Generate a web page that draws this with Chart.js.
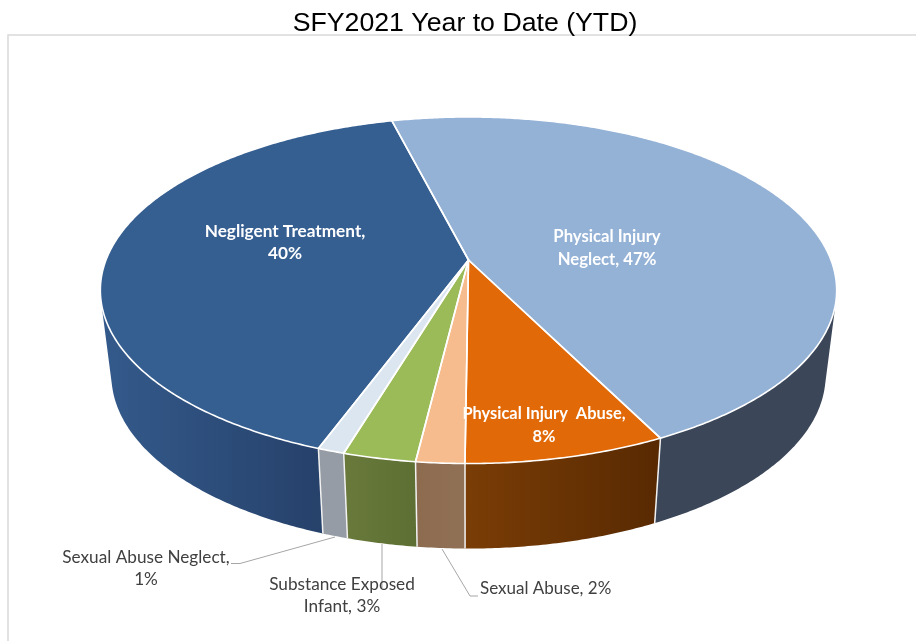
<!DOCTYPE html>
<html>
<head>
<meta charset="utf-8">
<title>SFY2021 Year to Date (YTD)</title>
<script src="https://cdn.jsdelivr.net/npm/chart.js@4"></script>
<style>
  html, body { margin: 0; padding: 0; background: #fff; }
  #wrap { width: 916px; height: 641px; }
  canvas { display: block; }
</style>
</head>
<body>
<div id="wrap"><canvas id="chart" width="916" height="641"></canvas></div>
<script>
const categories = ['Physical Injury Neglect', 'Physical Injury Abuse', 'Sexual Abuse', 'Substance Exposed Infant', 'Sexual Abuse Neglect', 'Negligent Treatment'];
const shares = [46.6, 7.5, 1.8, 2.7, 1.0, 40.4];
const topColors = ['#94b1d6', '#e26908', '#f6bc8d', '#9bbb59', '#dce6f1', '#355e91'];
const wallLeft = ['#3b4759', '#7a3d06', '#8c6b4f', '#68793b', '#969ca5', '#33598a'];
const wallRight = ['#3b4759', '#592a02', '#917156', '#5e6f33', '#969ca5', '#26416a'];

// projection of the flat pie onto the tilted disc
const APEX_X = 468.5, APEX_Y = 260;
const RX = 362.5, RY = 168, PERSP = 0.1746;
const DEPTH = 85, BOTTOM_SCALE = 0.97;

function rim(angle) {
  const u = Math.cos(angle), v = Math.sin(angle);
  const d = 1 - PERSP * v;
  return { x: APEX_X + RX * u / d, y: APEX_Y + RY * v / d };
}
function lowerRim(angle) {
  const p = rim(angle);
  return { x: APEX_X + (p.x - APEX_X) * BOTTOM_SCALE, y: p.y + DEPTH };
}
function sweep(a0, a1) {
  const n = Math.max(2, Math.ceil((a1 - a0) / (Math.PI / 360)));
  const out = [];
  for (let i = 0; i <= n; i++) out.push(a0 + (a1 - a0) * i / n);
  return out;
}
// true where the wall faces the viewer (stops at the fold on both sides)
function facesViewer(a) {
  const p = rim(a), q = rim(a + 0.001), r = lowerRim(a);
  return (q.x - p.x) * (r.y - p.y) - (q.y - p.y) * (r.x - p.x) < 0;
}

const tiltedPie = {
  id: 'tiltedPie',
  beforeDraw(chart) {
    const ctx = chart.ctx;
    ctx.save();
    ctx.strokeStyle = '#d9d9d9';
    ctx.lineWidth = 1.5;
    ctx.beginPath();
    ctx.moveTo(8, 641);
    ctx.lineTo(8, 35);
    ctx.lineTo(916, 35);
    ctx.stroke();
    ctx.restore();
  },
  beforeDatasetDraw(chart, args) {
    const ctx = chart.ctx;
    const arcs = args.meta.data;
    ctx.save();
    ctx.lineJoin = 'round';

    // side walls
    arcs.forEach((arc, i) => {
      const angles = sweep(arc.startAngle, arc.endAngle).filter(facesViewer);
      if (angles.length < 2) return;
      const xs = angles.map((a) => lowerRim(a).x);
      const grad = ctx.createLinearGradient(Math.min(...xs), 0, Math.max(...xs), 0);
      grad.addColorStop(0, wallLeft[i]);
      grad.addColorStop(1, wallRight[i]);
      ctx.beginPath();
      angles.forEach((a, k) => {
        const p = rim(a);
        if (k === 0) ctx.moveTo(p.x, p.y); else ctx.lineTo(p.x, p.y);
      });
      angles.slice().reverse().forEach((a) => {
        const p = lowerRim(a);
        ctx.lineTo(p.x, p.y);
      });
      ctx.closePath();
      ctx.fillStyle = grad;
      ctx.fill();
    });

    // white seams between the walls
    ctx.strokeStyle = '#f2f2f2';
    ctx.lineWidth = 1.5;
    arcs.forEach((arc) => {
      if (!facesViewer(arc.startAngle)) return;
      const a = rim(arc.startAngle), b = lowerRim(arc.startAngle);
      ctx.beginPath();
      ctx.moveTo(a.x, a.y);
      ctx.lineTo(b.x, b.y);
      ctx.stroke();
    });

    // top face
    arcs.forEach((arc, i) => {
      ctx.beginPath();
      ctx.moveTo(APEX_X, APEX_Y);
      sweep(arc.startAngle, arc.endAngle).forEach((a) => {
        const p = rim(a);
        ctx.lineTo(p.x, p.y);
      });
      ctx.closePath();
      ctx.fillStyle = topColors[i];
      ctx.fill();
    });
    ctx.strokeStyle = '#ffffff';
    ctx.lineWidth = 1.6;
    arcs.forEach((arc) => {
      ctx.beginPath();
      ctx.moveTo(APEX_X, APEX_Y);
      sweep(arc.startAngle, arc.endAngle).forEach((a) => {
        const p = rim(a);
        ctx.lineTo(p.x, p.y);
      });
      ctx.closePath();
      ctx.stroke();
    });
    ctx.restore();
    return false;
  },
  afterDraw(chart) {
    const ctx = chart.ctx;
    ctx.save();

    // leader lines
    ctx.strokeStyle = '#a6a6a6';
    ctx.lineWidth = 1;
    [
      [[335, 537], [240, 563.5], [231, 563.5]],
      [[382, 544], [382, 588]],
      [[442, 549], [470, 596], [478, 596]],
    ].forEach((line) => {
      ctx.beginPath();
      line.forEach((p, k) => (k ? ctx.lineTo(p[0], p[1]) : ctx.moveTo(p[0], p[1])));
      ctx.stroke();
    });

    // data labels
    ctx.textBaseline = 'middle';
    const pct = shares.map((s) => Math.round(s) + '%');
    const drawLabel = (lines, x, y, bold, size, align) => {
      ctx.font = (bold ? 'bold ' : '') + size + 'px Lato, "Open Sans", sans-serif';
      ctx.fillStyle = bold ? '#ffffff' : '#404040';
      ctx.textAlign = align || 'center';
      lines.forEach((t, k) => ctx.fillText(t, x, y + k * 22.7));
    };
    drawLabel(['Negligent Treatment,', pct[5]], 285, 231, true, 17.2);
    drawLabel(['Physical Injury', 'Neglect, ' + pct[0]], 607, 237, true, 16.7);
    drawLabel(['Physical Injury  Abuse,', pct[1]], 544, 414, true, 16.4);
    drawLabel(['Sexual Abuse Neglect,', pct[4]], 146, 557, false, 17.2);
    drawLabel(['Substance Exposed', 'Infant, ' + pct[3]], 342, 584, false, 17.2);
    drawLabel(['Sexual Abuse, ' + pct[2]], 480, 589, false, 17, 'left');
    ctx.restore();
  },
};

new Chart(document.getElementById('chart'), {
  type: 'pie',
  data: {
    labels: categories,
    datasets: [{ data: shares, backgroundColor: topColors, borderColor: '#ffffff' }],
  },
  options: {
    responsive: false,
    animation: false,
    rotation: -14.3,
    layout: { padding: { left: 14 } },
    plugins: {
      legend: { display: false },
      tooltip: { enabled: false },
      title: {
        display: true,
        text: 'SFY2021 Year to Date (YTD)',
        color: '#000000',
        font: { family: '"Liberation Sans", Arial, sans-serif', size: 26.7, weight: 'normal' },
        padding: { top: 8, bottom: 6 },
      },
    },
  },
  plugins: [tiltedPie],
});
</script>
</body>
</html>
